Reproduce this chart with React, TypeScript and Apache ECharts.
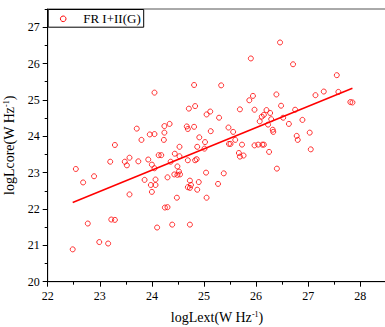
import React, { useEffect, useRef } from 'react';
import * as echarts from 'echarts';

// Reference data
const seriesName = 'FR I+II(G)';
const logLext = [
  22.48, 22.54, 22.68, 22.77, 22.89, 22.99, 23.16, 23.2, 23.22, 23.29,
  23.29, 23.48, 23.52, 23.57, 23.57, 23.71, 23.74, 23.8, 23.86, 23.93,
  23.96, 23.98, 24.0, 24.0, 24.05, 24.05, 24.05, 24.07, 24.07, 24.1,
  24.13, 24.18, 24.23, 24.24, 24.24, 24.25, 24.3, 24.3, 24.34, 24.36,
  24.39, 24.43, 24.44, 24.48, 24.49, 24.49, 24.52, 24.53, 24.53, 24.54,
  24.67, 24.69, 24.69, 24.69, 24.71, 24.73, 24.73, 24.73, 24.75, 24.81,
  24.83, 24.81, 24.83, 24.86, 24.87, 24.87, 24.9, 24.91, 25.01, 25.02,
  25.04, 25.05, 25.05, 25.12, 25.13, 25.27, 25.29, 25.33, 25.38, 25.47,
  25.48, 25.51, 25.56, 25.6, 25.67, 25.69, 25.69, 25.73, 25.76, 25.87,
  25.9, 25.94, 25.97, 25.97, 26.04, 26.07, 26.11, 26.12, 26.15, 26.15,
  26.2, 26.23, 26.25, 26.27, 26.29, 26.32, 26.33, 26.39, 26.4, 26.46,
  26.48, 26.52, 26.63, 26.71, 26.75, 26.78, 26.8, 26.89, 27.03, 27.05,
  27.14, 27.3, 27.55, 27.58, 27.81, 27.85,
];
const logLcore = [
  20.89, 23.1, 22.73, 21.6, 22.9, 21.09, 21.05, 23.3, 21.71, 21.7,
  23.76, 23.3, 23.2, 23.41, 22.4, 24.21, 23.31, 23.9, 22.8, 23.36,
  24.05, 22.66, 23.22, 22.47, 25.2, 24.06, 23.12, 22.81, 22.66, 21.49,
  23.48, 23.48, 23.9, 24.28, 24.1, 22.04, 22.05, 22.87, 24.34, 23.3,
  21.57, 22.95, 23.52, 22.31, 23.17, 22.94, 23.03, 23.45, 23.71, 22.95,
  24.27, 24.2, 23.34, 22.6, 24.76, 22.58, 22.78, 21.57, 22.66, 25.41,
  24.83, 24.26, 23.34, 23.37, 23.71, 22.53, 22.74, 23.97, 23.66, 23.84,
  23.0, 24.6, 22.31, 24.68, 24.14, 22.69, 24.51, 25.4, 22.98, 24.24,
  23.79, 23.79, 24.12, 23.9, 23.54, 23.44, 24.74, 23.77, 23.47, 24.99,
  26.14, 25.11, 24.73, 23.75, 23.77, 24.41, 24.54, 23.77, 23.77, 24.59,
  24.72, 24.32, 23.57, 24.64, 24.47, 24.18, 24.12, 25.15, 23.11, 26.58,
  24.84, 24.51, 24.34, 25.98, 24.73, 24.01, 23.9, 24.45, 24.1, 23.64,
  25.13, 25.23, 25.68, 25.22, 24.94, 24.93,
];
// Linear fit endpoints
const fitLext = [22.48, 27.85];
const fitLcore = [22.18, 25.32];

const FONT = "'Liberation Serif', 'Times New Roman', serif";

export default function App() {
  const ref = useRef<HTMLDivElement>(null);

  useEffect(() => {
    const chart = echarts.init(ref.current!, null, { renderer: 'svg' });
    const points = logLext.map((x, i) => [x, logLcore[i]]);
    const fit = fitLext.map((x, i) => [x, fitLcore[i]]);
    const intLabel = (v: number) => (Math.abs(v - Math.round(v)) < 1e-9 ? String(Math.round(v)) : '');
    const nameStyle = {
      fontFamily: FONT,
      fontSize: 14,
      color: '#000',
      rich: {
        sup: { fontFamily: FONT, fontSize: 8, color: '#000', verticalAlign: 'top', lineHeight: 8 },
      },
    };
    const labelStyle = { fontFamily: FONT, fontSize: 12, color: '#000' };
    const black = { color: '#000', width: 1 };

    chart.setOption({
      animation: false,
      grid: {
        left: 47.7,
        top: 9,
        width: 338.6,
        height: 272.7,
        show: true,
        borderColor: '#555',
        borderWidth: 1,
        backgroundColor: 'transparent',
        containLabel: false,
        outerBoundsMode: 'none',
      },
      legend: { show: false, data: [seriesName] },
      graphic: [
        {
          type: 'group',
          left: 47.7,
          top: 9,
          z: 10,
          children: [
            {
              type: 'rect',
              shape: { x: 0, y: 0, width: 95.5, height: 17.7 },
              style: { fill: '#fff', stroke: '#000', lineWidth: 1 },
            },
            {
              type: 'circle',
              shape: { cx: 15, cy: 9.3, r: 2.8 },
              style: { fill: 'rgba(255,255,255,0)', stroke: '#ff0000', lineWidth: 1 },
            },
            {
              type: 'text',
              x: 35,
              y: 9.3,
              style: {
                text: seriesName,
                fontFamily: FONT,
                fontSize: 13,
                fill: '#000',
                verticalAlign: 'middle',
                align: 'left',
              },
            },
          ],
        },
      ],
      xAxis: [
        {
          type: 'value',
          min: 22,
          max: 28.5,
          interval: 1,
          position: 'bottom',
          name: 'logLext(W Hz{sup|-1})',
          nameLocation: 'middle',
          nameGap: 29,
          nameTextStyle: nameStyle,
          axisLine: { show: true, onZero: false, lineStyle: black },
          axisTick: { show: true, inside: false, length: 5, lineStyle: black },
          axisLabel: { ...labelStyle, margin: 8, showMaxLabel: false, formatter: intLabel },
          splitLine: { show: false },
        },
        {
          type: 'value',
          min: 22,
          max: 28.5,
          interval: 0.5,
          position: 'bottom',
          axisLine: { show: false, onZero: false },
          axisTick: { show: true, inside: false, length: 3, lineStyle: black },
          axisLabel: { show: false },
          splitLine: { show: false },
        },
      ],
      yAxis: [
        {
          type: 'value',
          min: 20,
          max: 27.5,
          interval: 1,
          position: 'left',
          name: 'logLcore(W Hz{sup|-1})',
          nameLocation: 'middle',
          nameGap: 19,
          nameRotate: 90,
          nameTextStyle: nameStyle,
          axisLine: { show: true, onZero: false, lineStyle: black },
          axisTick: { show: true, inside: false, length: 5, lineStyle: black },
          axisLabel: { ...labelStyle, margin: 8, showMaxLabel: false, formatter: intLabel },
          splitLine: { show: false },
        },
        {
          type: 'value',
          min: 20,
          max: 27.5,
          interval: 0.5,
          position: 'left',
          axisLine: { show: false, onZero: false },
          axisTick: { show: true, inside: false, length: 3, lineStyle: black },
          axisLabel: { show: false },
          splitLine: { show: false },
        },
      ],
      series: [
        {
          name: seriesName,
          type: 'scatter',
          xAxisIndex: 0,
          yAxisIndex: 0,
          data: points,
          symbol: 'circle',
          symbolSize: 5,
          itemStyle: { color: 'rgba(255,255,255,0)', borderColor: '#ff0000', borderWidth: 1 },
          z: 3,
        },
        {
          name: 'fit',
          type: 'line',
          xAxisIndex: 0,
          yAxisIndex: 0,
          data: fit,
          symbol: 'none',
          lineStyle: { color: '#ff0000', width: 1.5 },
          itemStyle: { color: '#ff0000' },
          z: 2,
        },
      ],
    });
    return () => chart.dispose();
  }, []);

  return (
    <div
      ref={ref}
      style={{ position: 'absolute', left: 0, top: 0, width: 385, height: 327, background: '#fff' }}
    />
  );
}
